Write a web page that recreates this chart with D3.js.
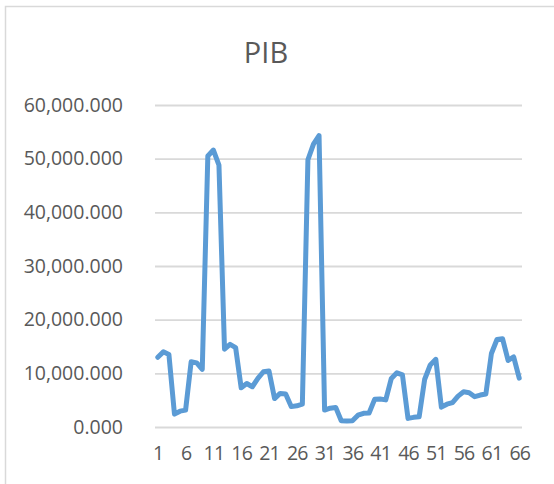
<!DOCTYPE html>
<html>
<head>
<meta charset="utf-8">
<script src="https://cdn.jsdelivr.net/npm/d3@7"></script>
<style>
  body { margin: 0; background: #fff; }
</style>
</head>
<body>
<div id="chart"></div>
<script>
// categories 1..66
const categories = d3.range(1, 67);
const pib = [
  13000, 14000, 13500, 2400, 2950, 3150, 12150, 11950, 10750, 50500,
  51600, 48800, 14500, 15400, 14800, 7300, 8100, 7500, 9050, 10300,
  10450, 5300, 6250, 6150, 3800, 3950, 4250, 49800, 52700, 54300,
  3150, 3500, 3650, 1150, 1100, 1150, 2200, 2550, 2600, 5150,
  5200, 5050, 9050, 10100, 9700, 1600, 1800, 1900, 8900, 11550,
  12600, 3700, 4250, 4550, 5750, 6550, 6400, 5650, 5950, 6150,
  13700, 16300, 16450, 12400, 13050, 9100
];
const yTicks = [0, 10000, 20000, 30000, 40000, 50000, 60000];
const xLabels = categories.filter(d => (d - 1) % 5 === 0);

const w = 554;
const h = 484;
const plotL = 155, plotR = 522, plotT = 105, plotB = 427;
const font = '"Open Sans", sans-serif';

const svg = d3.select('#chart')
  .append('svg')
  .attr('width', w)
  .attr('height', h)
  .style('display', 'block');

// chart border (runs off the page on the right and bottom)
svg.append('rect')
  .attr('x', 5.5)
  .attr('y', 6.5)
  .attr('width', 700)
  .attr('height', 700)
  .attr('fill', '#fff')
  .attr('stroke', '#d9d9d9')
  .attr('stroke-width', 1.5);

// title
svg.append('text')
  .attr('x', 266)
  .attr('y', 63)
  .attr('text-anchor', 'middle')
  .attr('fill', '#595959')
  .attr('font-family', font)
  .attr('font-size', 29)
  .text('PIB');

const x = d3.scalePoint()
  .domain(categories)
  .range([plotL, plotR])
  .padding(0.5);

const y = d3.scaleLinear()
  .domain([0, 60000])
  .range([plotB, plotT]);

// y axis + gridlines
const yAxis = svg.append('g')
  .attr('transform', 'translate(' + plotL + ',0)')
  .call(d3.axisLeft(y)
    .tickValues(yTicks)
    .tickFormat(d3.format(',.3f'))
    .tickSize(-(plotR - plotL))
    .tickPadding(32))
  .attr('font-family', font)
  .attr('font-size', 19.5);
yAxis.select('.domain').remove();
yAxis.selectAll('line')
  .attr('stroke', '#d9d9d9')
  .attr('stroke-width', 1.8);
yAxis.selectAll('text')
  .attr('fill', '#595959');

// x axis labels
const xAxis = svg.append('g')
  .attr('transform', 'translate(0,' + plotB + ')')
  .call(d3.axisBottom(x)
    .tickValues(xLabels)
    .tickSize(0)
    .tickPadding(19))
  .attr('font-family', font)
  .attr('font-size', 19.5);
xAxis.select('.domain').remove();
xAxis.selectAll('text')
  .attr('fill', '#595959')
  .attr('letter-spacing', '-0.8px');

// line
const line = d3.line()
  .x((d, i) => x(categories[i]))
  .y(d => y(d));

svg.append('path')
  .datum(pib)
  .attr('d', line)
  .attr('fill', 'none')
  .attr('stroke', '#5b9bd5')
  .attr('stroke-width', 5)
  .attr('stroke-linejoin', 'round')
  .attr('stroke-linecap', 'round');
</script>
</body>
</html>
